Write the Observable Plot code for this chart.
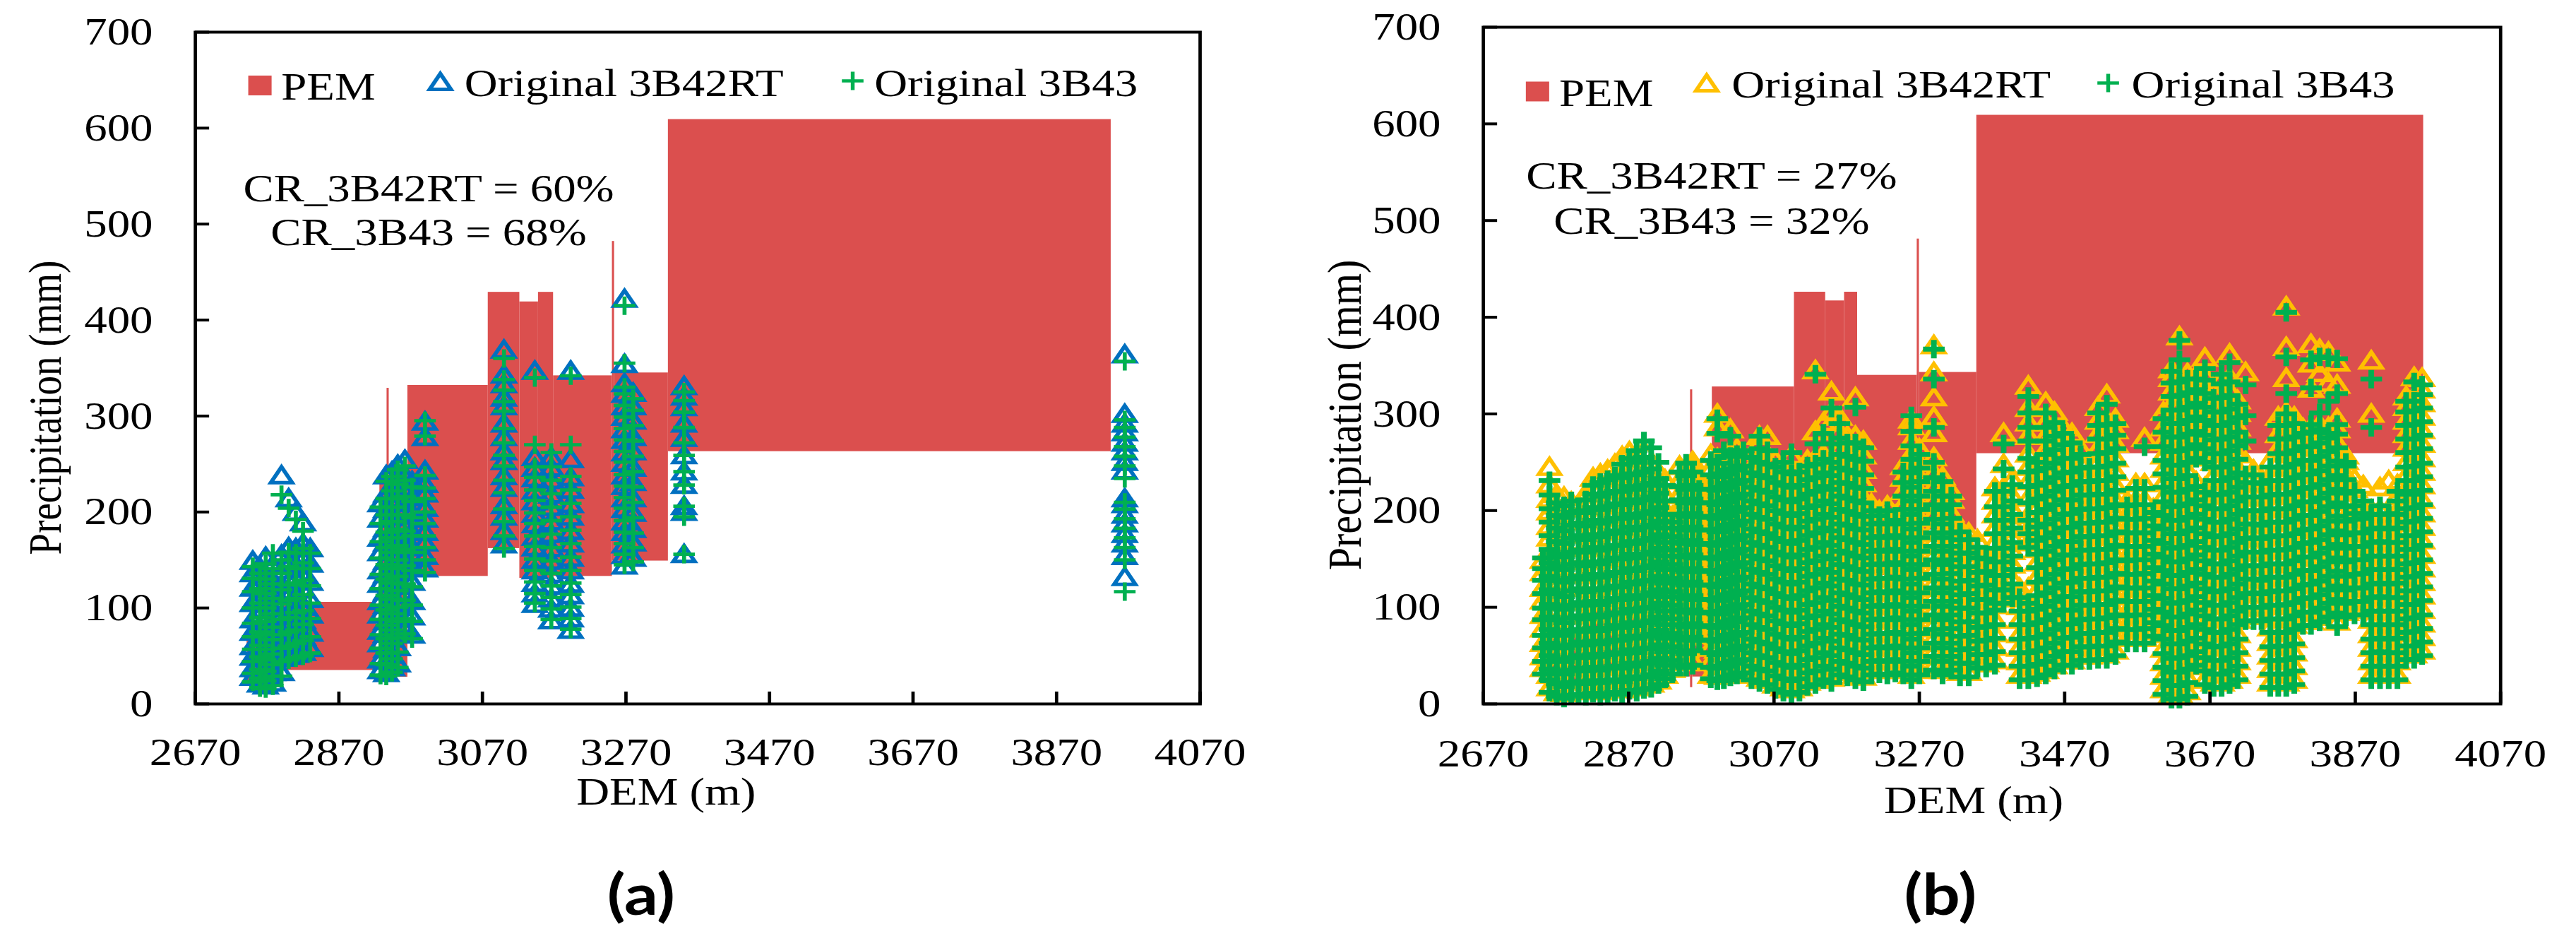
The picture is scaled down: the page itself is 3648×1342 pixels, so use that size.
<!DOCTYPE html>
<html><head><meta charset="utf-8">
<script src="https://cdn.jsdelivr.net/npm/d3@7"></script>
<script src="https://cdn.jsdelivr.net/npm/@observablehq/plot@0.6"></script>
<style>
html,body{margin:0;padding:0;background:#fff;}
#fig{display:flex;width:3648px;height:1342px;overflow:hidden;}
#fig svg{display:block;flex:none;}
</style></head><body><div id="fig"></div>
<script>
// ---------- labels / ticks ----------
const xTicks = [2670, 2870, 3070, 3270, 3470, 3670, 3870, 4070];
const yTicks = [0, 100, 200, 300, 400, 500, 600, 700];
const legendLabels = ["PEM", "Original 3B42RT", "Original 3B43"];
const crA = ["CR_3B42RT = 60%", "CR_3B43 = 68%"];
const crB = ["CR_3B42RT = 27%", "CR_3B43 = 32%"];
const panelLabels = ["(a)", "(b)"];
const xTitle = "DEM (m)";
const yTitle = "Precipitation (mm)";

// ---------- PEM band, panel (a) ----------
const aPemX1 = [2742, 2793, 2927, 2937, 2940, 2966, 3078, 3122, 3148, 3169, 3251, 3254, 3329];
const aPemX2 = [2793, 2922, 2937, 2940, 2966, 3078, 3122, 3148, 3169, 3251, 3254, 3329, 3946];
const aPemLo = [20, 35, 28, 28, 28, 133, 162, 131, 131, 133, 149, 149, 263];
const aPemHi = [76, 106, 239, 329, 239, 332, 429, 419, 429, 342, 482, 345, 609];

// ---------- PEM band, panel (b) ----------
const bPemX1 = [2761, 2812, 2946, 2955, 2958, 2985, 3098, 3141, 3167, 3185, 3267, 3270, 3349];
const bPemX2 = [2812, 2941, 2955, 2958, 2985, 3098, 3141, 3167, 3185, 3267, 3270, 3349, 3964];
const bPemLo = [20, 35, 28, 17, 28, 133, 162, 131, 131, 133, 150, 180, 259];
const bPemHi = [76, 106, 239, 325, 239, 328, 426, 417, 426, 340, 481, 343, 609];

// ---------- panel (a) points: [DEM, [precipitation values]] ----------
const a42 = [
 [2750,[26,35,47,58,73,86,103,119,134,147]],
 [2760,[19,28,39,51,62,78,91,108,124,140]],
 [2768,[17,26,35,48,59,75,88,103,117,133,151]],
 [2778,[20,31,42,54,69,81,97,113,127,143]],
 [2790,[31,46,61,74,91,105,122,137,153,236]],
 [2800,[48,61,78,92,111,126,145,161,212]],
 [2810,[50,66,79,97,112,129,143,160,198]],
 [2820,[52,68,85,99,117,131,149,165,187]],
 [2830,[56,72,91,107,125,144,160]],
 [2928,[33,44,61,74,91,105,123,137,156,171,191,207]],
 [2936,[30,43,55,71,84,101,115,133,147,166,181,201,217,236]],
 [2944,[36,49,66,79,97,111,129,143,161,175,193,207,225,240]],
 [2952,[40,57,71,89,103,121,135,153,167,185,199,217,231,247]],
 [2962,[76,91,111,127,147,163,183,199,219,235,252]],
 [2972,[70,89,105,125,141,161,177,197,213,230]],
 [2990,[139,152,166,177,191,202,217,227,241,276,292]],
 [3100,[164,178,193,205,223,235,251,261,276,290,308,317,331,341,367]],
 [3143,[102,113,124,137,148,161,172,185,196,209,220,233,244,255,345]],
 [3166,[85,97,108,121,133,147,160,175,188,203,216,231,244,255]],
 [3193,[75,87,98,111,123,137,150,165,178,193,206,221,234,253,345]],
 [3268,[142,153,164,177,188,201,212,225,236,249,260,273,284,297,308,321,332,352,420]],
 [3280,[150,166,180,197,212,229,244,261,276,293,308,322]],
 [3351,[154,198,204,226,240,257,275,290,307,318,329]],
 [3965,[130,152,165,175,186,195,206,212,241,250,261,270,281,290,300,362]]
];
const a43 = [
 [2750,[23,32,44,57,70,84,100,117,131,143]],
 [2760,[17,27,36,49,61,75,90,105,120,136]],
 [2768,[16,24,34,46,57,72,86,100,115,130,146]],
 [2778,[19,29,41,52,67,80,94,110,125,141,157]],
 [2790,[29,44,58,72,88,104,119,136,150,218]],
 [2800,[46,60,75,90,108,124,143,158,204]],
 [2810,[48,63,77,95,110,126,141,157,192]],
 [2820,[50,66,83,97,114,129,147,162,180]],
 [2830,[53,70,89,105,123,141,157]],
 [2928,[30,42,58,72,88,103,120,135,152,169,188,205]],
 [2936,[29,41,53,68,82,98,113,130,145,163,179,197,214,232]],
 [2944,[33,47,63,77,94,109,126,141,158,173,190,205,222,237]],
 [2952,[38,54,69,86,101,118,133,150,165,182,197,214,229,244]],
 [2962,[73,89,108,125,144,161,180,197,216,233,248]],
 [2972,[68,86,103,122,139,158,175,194,211,226]],
 [2990,[137,150,163,175,188,200,214,225,238,279,295]],
 [3100,[162,175,190,203,220,233,248,259,272,287,305,315,327,338,360]],
 [3143,[105,115,127,139,151,164,175,188,199,212,223,236,247,270,340]],
 [3166,[88,99,111,123,136,149,163,177,191,205,219,233,247,262]],
 [3193,[78,89,101,114,126,139,153,167,181,195,209,223,237,270,342]],
 [3268,[145,156,167,179,191,204,215,227,239,252,263,275,287,299,311,323,330,355,415]],
 [3280,[148,163,178,194,210,226,242,258,274,290,306,318]],
 [3351,[156,195,206,228,242,259,272,288,304,316,325]],
 [3965,[117,150,163,173,183,193,203,210,235,248,258,268,278,288,296,357]]
];

// ---------- panel (b) points ----------
const b43 = [
 [2752,[31,44,58,71,87,99,114,128,140,151]],
 [2761,[12,25,36,50,63,77,90,103,118,132,146,160,174,188,202,216,231]],
 [2771,[8,21,34,46,60,74,87,101,114,128,142,155,168,182,195,208]],
 [2781,[6,18,31,44,58,71,84,98,111,126,139,152,166,179,193,205]],
 [2791,[9,22,35,48,61,76,89,102,117,130,144,157,171,185,198,210]],
 [2801,[10,23,37,50,64,77,91,105,119,132,146,159,174,187,200]],
 [2811,[8,21,34,48,61,75,88,102,116,129,143,157,170,184,198,211]],
 [2821,[11,24,38,51,65,78,92,106,119,134,147,162,175,190,203,217,226]],
 [2831,[8,22,35,49,62,76,90,103,118,131,145,159,173,187,201,215,229]],
 [2841,[10,24,37,51,64,78,92,106,120,133,148,161,176,189,204,218,232]],
 [2851,[12,25,39,53,66,81,94,109,122,136,151,164,179,192,207,220,236]],
 [2861,[10,23,37,52,66,79,94,108,121,136,150,164,177,192,206,220,234,248]],
 [2871,[14,28,42,56,70,84,98,112,126,140,155,168,183,196,211,225,238,254]],
 [2881,[12,26,39,53,68,81,96,109,124,138,151,166,180,193,208,222,237,250,262]],
 [2891,[15,28,42,57,70,84,99,112,127,141,155,169,183,197,211,226,240,255,272]],
 [2901,[16,30,44,58,72,86,100,115,128,143,157,171,185,199,214,228,243,265]],
 [2911,[20,34,47,61,76,90,104,118,132,147,161,175,189,203,218,233,250]],
 [2920,[26,40,54,68,82,96,111,125,139,153,167,182,196,210,226]],
 [2930,[31,45,59,73,88,102,116,130,144,159,173,188]],
 [2940,[40,54,68,82,97,111,125,139,153,168,182,196,211,225,240]],
 [2949,[38,52,66,80,95,109,123,137,152,166,180,194,208,222,236,249]],
 [2958,[40,55,69,83,97,112,126,140,154,169,183,197,212,226,240]],
 [2967,[66,80,94,108,123,137,151,165,180,194,208,222]],
 [2983,[26,38,53,66,81,95,108,123,138,151,166,180,193,208,222,237,252]],
 [2992,[24,37,51,65,79,93,107,121,135,150,164,178,192,206,221,235,249,280,295]],
 [3001,[25,39,53,67,81,96,110,124,138,152,167,181,195,209,224,238,262]],
 [3010,[28,42,56,71,85,99,113,128,142,156,170,185,199,213,228,242,256,277]],
 [3019,[30,44,58,72,87,101,115,129,144,158,172,186,201,215,229,243,258]],
 [3028,[32,46,60,74,89,103,117,131,146,160,174,189,203,217,231,246,262]],
 [3039,[25,39,53,67,82,96,110,124,139,153,167,181,196,210,224,239,255]],
 [3050,[22,36,50,64,79,93,107,121,136,150,164,178,193,207,221,236,250,264,277]],
 [3061,[20,34,48,62,77,91,105,119,134,148,162,176,191,205,219,234,248,262]],
 [3072,[15,29,43,57,72,86,100,114,129,143,157,171,186,200,214,229,245]],
 [3083,[12,26,40,54,69,83,97,111,126,140,154,168,183,197,211,226,240,250]],
 [3094,[10,24,38,52,67,81,95,109,124,138,152,166,181,195,209,224,238,260]],
 [3105,[12,26,40,55,69,83,97,112,126,140,154,169,183,197,212,226,240]],
 [3116,[18,32,46,60,75,89,103,117,132,146,160,174,189,203,217,232,246]],
 [3127,[20,34,48,63,77,91,105,120,134,148,162,177,191,205,220,234,248,269,341]],
 [3138,[25,39,53,68,82,96,110,125,139,153,167,182,196,210,225,239,253,280]],
 [3149,[22,36,50,65,79,93,107,122,136,150,164,179,193,207,222,236,250,269,306]],
 [3160,[30,44,58,72,87,101,115,129,144,158,172,186,201,215,229,244,258,275,290]],
 [3171,[28,42,56,71,85,99,113,128,142,156,170,185,199,213,228,242,256,270]],
 [3182,[25,39,53,67,82,96,110,124,139,153,167,181,196,210,224,239,253,270,307]],
 [3193,[23,37,51,66,80,94,108,123,137,151,165,180,194,208,223,237,251,265]],
 [3204,[30,44,58,72,87,101,115,129,144,158,172,186,200]],
 [3215,[31,45,59,73,88,102,116,130,145,159,173,187,195]],
 [3226,[30,44,58,73,87,101,115,130,144,158,172,186,200]],
 [3237,[32,46,60,74,89,103,117,131,146,160,174,190]],
 [3248,[30,44,58,72,87,101,115,129,144,158,172,186,201,215,229,240]],
 [3259,[25,39,53,67,82,96,110,124,139,153,167,181,196,210,224,239,253,267,282,298]],
 [3270,[30,44,58,73,87,101,115,130,144,158,172,187,201,215,230,244,258]],
 [3290,[35,49,63,77,92,106,120,134,149,163,177,191,206,220,234,250,286,336,367]],
 [3302,[30,44,58,72,87,101,115,129,144,158,172,186,201,215,230]],
 [3314,[35,49,63,78,92,106,120,135,149,163,177,192,206,215]],
 [3326,[28,42,56,70,85,99,113,127,142,156,170,178]],
 [3338,[28,42,57,71,85,99,114,128,142,156,170]],
 [3350,[37,51,65,79,94,108,122,136,151,162]],
 [3362,[37,51,66,80,94,108,123,137,150]],
 [3374,[40,54,68,82,97,104,118,133,147,161,176,190,204,220]],
 [3386,[104,118,133,147,161,176,190,204,220,243,269]],
 [3398,[110,124,139,153,167,182,196,210,227]],
 [3408,[25,39,53,67,82,96,110]],
 [3420,[25,39,53,68,82,96,104,162,176,190,208,225,240,254,272,286,301,318]],
 [3432,[27,41,55,69,84,98,112,126,141,155,169,183,198,212,226,241,250]],
 [3444,[30,44,58,72,87,101,115,129,144,158,172,186,201,215,229,244,258,272,286,301]],
 [3456,[35,49,63,77,92,106,120,134,149,163,177,191,206,220,234,249,263,277,291]],
 [3468,[40,54,68,82,97,111,125,139,154,168,182,196,211,225,239,254,268,280]],
 [3480,[40,54,69,83,97,111,126,140,154,168,183,197,211,226,240,254,270]],
 [3492,[45,59,73,87,102,116,130,144,159,173,187,201,216,230,244,258]],
 [3504,[45,59,73,88,102,116,130,145,159,173,187,202,216,230,245]],
 [3516,[46,60,74,88,103,117,131,145,160,174,188,202,217,231,245,259,274,288,301]],
 [3528,[46,60,74,89,103,117,131,146,160,174,188,203,217,231,246,260,274,289,310]],
 [3540,[50,64,78,92,107,121,135,149,164,178,192,206,221,235,249,264,278,290]],
 [3556,[63,77,91,106,120,134,148,163,177,191,205]],
 [3568,[63,77,92,106,120,134,149,163,177,191,206,223]],
 [3580,[63,78,92,106,120,135,149,163,177,192,206,223,266]],
 [3592,[70,84,98,112,127,141,155,169,184,198]],
 [3606,[10,24,38,52,67,81,95,109,124,138,152,166,181,195,209,224,238,252,266,281,295]],
 [3617,[5,19,33,47,62,76,90,104,119,133,147,161,176,190,204,219,233,247,261,276,290,304,318,332,344]],
 [3628,[5,19,33,48,62,76,90,105,119,133,147,162,176,190,205,219,233,247,262,276,290,304,319,333,356,376]],
 [3639,[8,22,36,50,65,79,93,107,122,136,150,164,179,193,207,222,236,250,264,279,293,307,322,336]],
 [3651,[40,54,68,82,97,111,125,139,154,168,182,196,211,225,254,268,282,297,311,325,336]],
 [3663,[20,34,48,62,77,91,105,119,134,148,162,176,191,205,219,250,264,278,293,307,321,335,347]],
 [3675,[17,31,45,59,74,88,102,116,131,145,159,173,188,202,216,231,245,259,273,288,302,316]],
 [3686,[17,31,45,60,74,88,102,117,131,145,159,174,188,202,217,231,245,259,274,288,302,317,331,341]],
 [3697,[20,34,48,62,77,91,105,119,134,148,162,176,191,205,219,234,248,262,276,291,305,319,333,353]],
 [3708,[25,39,53,67,82,96,110,124,139,153,167,181,196,210,224,239,253,267,281,296,310]],
 [3719,[86,100,114,129,143,157,171,186,200,214,229,237,272,298,330]],
 [3730,[86,100,115,129,143,157,172,186,200,214,229,237]],
 [3741,[86,100,114,128,143,157,171,185,200,214,228]],
 [3753,[17,31,45,59,74,88,102,116,131,145,159,173,188,202,216,231,245]],
 [3764,[17,31,45,60,74,88,102,117,131,145,159,174,188,202,217,231,245,259,274,288]],
 [3775,[17,31,46,60,74,88,103,117,131,145,160,174,188,202,217,231,245,259,274,288,300,321,359,405]],
 [3786,[20,34,48,62,77,91,105,119,134,148,162,176,191,205,219,234,248,262,276,290]],
 [3798,[81,95,109,123,138,152,166,180,195,209,223,237,252,266,280]],
 [3809,[81,95,110,124,138,152,167,181,195,209,224,238,252,266,281,289,327,356]],
 [3821,[85,99,113,127,142,156,170,184,199,213,227,241,256,270,284,301,359]],
 [3833,[90,104,118,132,147,161,175,189,204,218,232,246,261,275,280,313,358]],
 [3845,[80,94,108,122,137,151,165,179,194,208,222,236,251,265,279,289,321,357]],
 [3857,[90,104,118,132,147,161,175,189,204,218,232,246,250]],
 [3869,[92,106,120,134,149,163,177,191,197,205,220]],
 [3881,[92,106,120,135,149,163,177,192,197,210]],
 [3892,[25,39,53,67,82,96,110,124,139,153,167,181,196,286,336]],
 [3904,[25,39,54,68,82,96,111,125,139,153,168,182,196,205]],
 [3916,[25,39,53,67,82,96,110,124,139,153,167,181,197]],
 [3928,[25,39,53,68,82,96,110,125,139,153,167,182,196,210,220]],
 [3940,[46,60,74,88,103,117,131,145,160,174,188,202,217,231,245,260,274,288,302,313]],
 [3951,[46,60,75,89,103,117,132,146,160,174,189,203,217,220,231,246,260,274,289,303,313,333]],
 [3962,[50,64,78,92,107,121,135,149,164,178,192,206,221,235,249,264,278,292,306,320,330]]
];
const b42 = [
 [2752,[35,47,61,76,90,105,118,134,147]],
 [2761,[15,28,42,57,69,85,97,112,126,140,154,170,182,197,210,225,243]],
 [2771,[10,24,38,52,65,79,94,107,121,135,149,162,177,190,203,215]],
 [2781,[9,22,35,49,63,77,90,104,118,132,146,159,173,187,200,212]],
 [2791,[12,26,39,53,67,81,95,110,123,137,151,165,178,193,207]],
 [2801,[13,27,40,55,68,82,97,110,124,139,152,166,180,193,204]],
 [2811,[11,24,38,52,66,80,93,107,122,135,149,163,177,191,205,216]],
 [2821,[14,28,41,56,70,83,97,112,125,139,153,168,181,195,209,222,232]],
 [2831,[11,25,39,53,66,81,94,108,122,137,150,164,178,192,206,220,236]],
 [2841,[13,27,41,55,69,82,96,111,124,138,152,167,181,194,209,222,240]],
 [2851,[15,29,43,57,71,84,98,113,127,141,155,169,183,197,211,225,246]],
 [2861,[13,27,41,56,70,84,98,112,126,140,155,168,182,196,210,224,238,254]],
 [2871,[16,31,45,59,73,88,101,116,130,143,158,171,186,200,214,228,243,259]],
 [2881,[15,29,43,57,71,86,99,113,127,142,156,170,184,198,212,226,241,256]],
 [2891,[18,32,46,60,74,88,102,116,130,144,158,172,186,200,214,229,244,260]],
 [2901,[19,33,47,61,76,90,104,118,132,146,160,174,188,203,218,232,248]],
 [2911,[22,36,50,65,79,93,107,121,135,150,164,178,192,207,222,238]],
 [2920,[28,42,57,71,85,99,113,128,142,156,170,185,199,214,230]],
 [2930,[34,48,62,76,91,105,119,133,147,162,176,192]],
 [2940,[43,57,71,85,100,114,128,142,157,171,185,199,214,229,244]],
 [2949,[41,55,69,83,98,112,126,140,155,169,183,197,211,225,239]],
 [2958,[43,58,72,86,100,115,129,143,157,172,186,200,215,229,243,249]],
 [2967,[69,83,97,111,126,140,154,168,183,197,211,225,232]],
 [2983,[28,41,56,70,84,98,112,126,141,155,169,183,197,211,226,241,256]],
 [2992,[27,40,54,68,82,96,110,124,139,153,167,181,195,210,224,238,252,284,298]],
 [3001,[28,42,56,70,84,99,113,127,141,156,170,184,198,213,227,242]],
 [3010,[31,45,59,74,88,102,116,131,145,159,173,188,202,216,231,245,260,282]],
 [3019,[33,47,61,75,90,104,118,132,147,161,175,190,204,218,232,247,262]],
 [3028,[35,49,63,77,92,106,120,134,149,163,177,192,206,220,234,250]],
 [3039,[28,42,56,70,85,99,113,127,142,156,170,184,199,213,227,242]],
 [3050,[25,39,53,67,82,96,110,124,139,153,167,181,196,210,224,239,253,268,275]],
 [3061,[23,37,51,65,80,94,108,122,137,151,165,179,194,208,222,237,251,275]],
 [3072,[18,32,46,60,75,89,103,117,132,146,160,174,189,203,217,232,250]],
 [3083,[15,29,43,57,72,86,100,114,129,143,157,171,186,200,214,229,244]],
 [3094,[13,27,41,55,70,84,98,112,127,141,155,169,184,198,212,227,242,255]],
 [3105,[15,29,43,58,72,86,100,115,129,143,157,172,186,200,215,229]],
 [3116,[21,35,49,63,78,92,106,120,135,149,163,177,192,206,220,235,250]],
 [3127,[23,37,51,66,80,94,108,123,137,151,165,180,194,208,223,237,252,280,343]],
 [3138,[28,42,56,71,85,99,113,128,142,156,170,185,199,213,228,242,256,289]],
 [3149,[25,39,53,68,82,96,110,125,139,153,167,182,196,210,225,239,253,289,300,321]],
 [3160,[33,47,61,75,90,104,118,132,147,161,175,189,204,218,232,247,262,280,295]],
 [3171,[31,45,59,74,88,102,116,131,145,159,173,188,202,216,231,245,260,275]],
 [3182,[28,42,56,70,85,99,113,127,142,156,170,184,199,213,227,242,256,275,315]],
 [3193,[26,40,54,69,83,97,111,126,140,154,168,183,197,211,226,240,255,270]],
 [3204,[33,47,61,75,90,104,118,132,147,161,175,189,205]],
 [3215,[34,48,62,76,91,105,119,133,148,162,176,190,198]],
 [3226,[33,47,61,76,90,104,118,133,147,161,175,189,203]],
 [3237,[35,49,63,77,92,106,120,134,149,163,177,193]],
 [3248,[33,47,61,75,90,104,118,132,147,161,175,189,204,218,232,244]],
 [3259,[28,42,56,70,85,99,113,127,142,156,170,184,199,213,227,242,256,270,285,292]],
 [3270,[33,47,61,76,90,104,118,133,147,161,175,190,204,218,233,247,262]],
 [3290,[38,52,66,80,95,109,123,137,152,166,180,194,209,223,237,253,278,295,315,341,369]],
 [3302,[33,47,61,75,90,104,118,132,147,161,175,189,204,218,233]],
 [3314,[38,52,66,81,95,109,123,138,152,166,180,195,209,218]],
 [3326,[31,45,59,73,88,102,116,130,145,159,173,180]],
 [3338,[31,45,60,74,88,102,117,131,145,159,175]],
 [3350,[40,54,68,82,97,111,125,139,154,168]],
 [3362,[40,54,69,83,97,111,126,140,152]],
 [3374,[43,57,71,85,100,108,122,137,151,165,180,194,208,222]],
 [3386,[107,121,136,150,164,179,193,207,222,246,278]],
 [3398,[113,127,142,156,170,185,199,213,230]],
 [3408,[28,42,56,70,85,99,113,118]],
 [3420,[28,42,56,71,85,99,118,165,179,193,211,228,243,257,275,289,304,327]],
 [3432,[30,44,58,72,87,101,115,129,144,158,172,186,201,215,229,244]],
 [3444,[33,47,61,75,90,104,118,132,147,161,175,189,204,218,232,247,261,275,289,310]],
 [3456,[38,52,66,80,95,109,123,137,152,166,180,194,209,223,237,252,266,280,300]],
 [3468,[43,57,71,85,100,114,128,142,157,171,185,199,214,228,242,257,271,284]],
 [3480,[43,57,72,86,100,114,129,143,157,171,186,200,214,229,243,257,278]],
 [3492,[48,62,76,90,105,119,133,147,162,176,190,204,219,233,247,262]],
 [3504,[48,62,76,91,105,119,133,148,162,176,190,205,219,233,250]],
 [3516,[49,63,77,91,106,120,134,148,163,177,191,205,220,234,248,262,277,291,305]],
 [3528,[49,63,77,92,106,120,134,149,163,177,191,206,220,234,249,263,277,292,318]],
 [3540,[53,67,81,95,110,124,138,152,167,181,195,209,224,238,252,267,281,293]],
 [3556,[66,80,94,109,123,137,151,166,180,194,208]],
 [3568,[66,80,95,109,123,137,152,166,180,194,209,226]],
 [3580,[66,81,95,109,123,138,152,166,180,195,209,226,273]],
 [3592,[73,87,101,115,130,144,158,172,187,200]],
 [3606,[13,27,41,55,70,84,98,112,127,141,155,169,184,198,212,227,241,255,269,284,300]],
 [3617,[8,22,36,50,65,79,93,107,122,136,150,164,179,193,207,222,236,250,264,279,293,307,321,335,344]],
 [3628,[8,22,36,51,65,79,93,108,122,136,150,165,179,193,208,222,236,250,265,279,293,307,322,336,378]],
 [3639,[11,25,39,53,68,82,96,110,125,139,153,167,182,196,210,225,239,253,267,282,296,310,325,340]],
 [3651,[43,57,71,85,100,114,128,142,157,171,185,199,214,228,257,271,285,300,314,328,338]],
 [3663,[23,37,51,65,80,94,108,122,137,151,165,179,194,208,222,253,267,281,296,310,324,338,356]],
 [3675,[20,34,48,62,77,91,105,119,134,148,162,176,191,205,219,234,248,262,276,291,305,320]],
 [3686,[20,34,48,63,77,91,105,120,134,148,162,177,191,205,220,234,248,262,277,291,305,320,334]],
 [3697,[23,37,51,65,80,94,108,122,137,151,165,179,194,208,222,237,251,265,279,294,308,322,336,360]],
 [3708,[28,42,56,70,85,99,113,127,142,156,170,184,199,213,227,242,256,270,284,299,312]],
 [3719,[89,103,117,132,146,160,174,189,203,217,232,249,341]],
 [3730,[89,103,118,132,146,160,175,189,203,217,232,240]],
 [3741,[89,103,117,131,146,160,174,188,203,217,231]],
 [3753,[20,34,48,62,77,91,105,119,134,148,162,176,191,205,219,234,250]],
 [3764,[20,34,48,63,77,91,105,120,134,148,162,177,191,205,220,234,248,262,277,295]],
 [3775,[20,34,49,63,77,91,106,120,134,148,163,177,191,205,220,234,248,262,277,291,300,335,367,409]],
 [3786,[23,37,51,65,80,94,108,122,137,151,165,179,194,208,222,237,251,265,279,295]],
 [3798,[84,98,112,126,141,155,169,183,198,212,226,240,255,269,283]],
 [3809,[84,98,113,127,141,155,170,184,198,212,227,241,255,269,284,324,350,370]],
 [3821,[88,102,116,130,145,159,173,187,202,216,230,244,259,273,287,340,365]],
 [3833,[93,107,121,135,150,164,178,192,207,221,235,249,264,278,284,330,362]],
 [3845,[83,97,111,125,140,154,168,182,197,211,225,239,254,268,282,293,328,351]],
 [3857,[93,107,121,135,150,164,178,192,207,221,235,249,255]],
 [3869,[95,109,123,137,152,166,180,194,200,220,231]],
 [3881,[95,109,123,138,152,166,180,195,200,224]],
 [3892,[28,42,56,70,85,99,113,127,142,156,170,184,199,298,353]],
 [3904,[28,42,57,71,85,99,114,128,142,156,171,185,199,222]],
 [3916,[28,42,56,70,85,99,113,127,142,156,170,184,229]],
 [3928,[28,42,56,71,85,99,113,128,142,156,170,185,199,213,225]],
 [3940,[49,63,77,91,106,120,134,148,163,177,191,205,220,234,248,263,277,291,305,316]],
 [3951,[49,63,78,92,106,120,135,149,163,177,192,206,220,234,249,263,277,292,306,316,336]],
 [3962,[53,67,81,95,110,124,138,152,167,181,195,209,224,238,252,267,281,295,309,323,335]]
];

// ---------- rendering ----------
const RED = "#DB4F4E", BLUE = "#0070C0", GREEN = "#00B050", GOLD = "#FFC000";
const SERIF = "'Liberation Serif','Times New Roman',serif";
const INNER_W = 1546;            // internal width of each panel (then stretched to 1824 px)
const TRI_R = 9.5, TRI_W = 5;    // triangle symbol radius / stroke
const PLUS_R = 8.4, PLUS_W = 4.6; // plus symbol radius / stroke (legend)

function flatten(rows) { return rows.flatMap(([x, vs]) => vs.map(y => ({x, y}))); }
function pemRows(x1, x2, lo, hi) { return x1.map((v, i) => ({x1: v, x2: x2[i], y1: lo[i], y2: hi[i]})); }

function panel(c) {
  const fs = 55;
  const T = (txt, o) => Plot.text([txt], {fontSize: fs, fill: "#000", ...o});
  const svg = Plot.plot({
    width: INNER_W, height: 1342,
    marginLeft: c.ml, marginRight: c.mr, marginTop: c.mt, marginBottom: c.mb,
    x: {domain: [2670, 4070]},
    y: {domain: [0, 700]},
    style: {fontFamily: SERIF, color: "#000", background: "#fff"},
    marks: [
      Plot.rect(pemRows(...c.pem), {x1: "x1", x2: "x2", y1: "y1", y2: "y2", fill: RED}),
      Plot.dot(flatten(c.s42), {x: "x", y: "y", symbol: "triangle", r: TRI_R, fill: "none", stroke: c.c42, strokeWidth: TRI_W}),
      Plot.dot(flatten(c.s43), {x: "x", y: "y", symbol: "plus", r: PLUS_R, fill: "none", stroke: GREEN, strokeWidth: c.plusW}),
      Plot.frame({stroke: "#000", strokeWidth: 4}),
      Plot.axisX({ticks: xTicks, tickSize: 17, dy: -17, tickFormat: () => "", stroke: "#000", strokeWidth: 4, label: null}),
      Plot.axisX({ticks: xTicks, tickSize: 0, tickPadding: c.xpad, tickFormat: d => String(d), fontSize: fs, fill: "#000", label: null}),
      Plot.axisY({ticks: yTicks, tickSize: 17, dx: 17, tickFormat: () => "", stroke: "#000", strokeWidth: 4, label: null}),
      Plot.axisY({ticks: yTicks, tickSize: 0, tickPadding: 51, tickFormat: d => String(d), fontSize: fs, fill: "#000", label: null}),
      T(xTitle, {frameAnchor: "bottom", textAnchor: "middle", dx: c.xtDx, dy: c.xtDy, lineAnchor: "bottom"}),
      T(yTitle, {frameAnchor: "left", textAnchor: "middle", rotate: -90, dx: c.ytDx, dy: c.ytDy, lineAnchor: "bottom", fontSize: c.ytFs}),
      T(c.cr[0], {frameAnchor: "top-left", textAnchor: "middle", dx: c.crDx, dy: c.crDy[0], lineAnchor: "bottom"}),
      T(c.cr[1], {frameAnchor: "top-left", textAnchor: "middle", dx: c.crDx, dy: c.crDy[1], lineAnchor: "bottom"}),
      // legend
      Plot.dot([0], {frameAnchor: "top-left", dx: c.lg.sq[0], dy: c.lg.sq[1], symbol: "square", r: 15.8, fill: RED}),
      T(legendLabels[0], {frameAnchor: "top-left", dx: c.lg.t0[0], dy: c.lg.t0[1], textAnchor: "start", lineAnchor: "bottom"}),
      Plot.dot([0], {frameAnchor: "top-left", dx: c.lg.tri[0], dy: c.lg.tri[1], symbol: "triangle", r: TRI_R, fill: "none", stroke: c.c42, strokeWidth: TRI_W}),
      T(legendLabels[1], {frameAnchor: "top-left", dx: c.lg.t1[0], dy: c.lg.t1[1], textAnchor: "start", lineAnchor: "bottom"}),
      Plot.dot([0], {frameAnchor: "top-left", dx: c.lg.pl[0], dy: c.lg.pl[1], symbol: "plus", r: PLUS_R, fill: "none", stroke: GREEN, strokeWidth: PLUS_W}),
      T(legendLabels[2], {frameAnchor: "top-left", dx: c.lg.t2[0], dy: c.lg.t2[1], textAnchor: "start", lineAnchor: "bottom"}),
      // panel letter
      T(c.letter, {frameAnchor: "bottom", textAnchor: "middle", dx: c.lbDx, dy: 298, lineAnchor: "bottom", fontFamily: "Lato, 'Open Sans', sans-serif", fontWeight: "bold", fontSize: 80})
    ]
  });
  // stretch horizontally like the original figure
  svg.setAttribute("width", 1824);
  svg.setAttribute("height", 1342);
  svg.setAttribute("viewBox", `0 0 ${INNER_W} 1342`);
  svg.setAttribute("preserveAspectRatio", "none");
  svg.style.width = "1824px";
  svg.style.height = "1342px";
  svg.style.maxWidth = "none";
  return svg;
}

const fig = document.getElementById("fig");
fig.append(panel({
  ml: 234, mr: 106, mt: 45, mb: 346, xpad: 47, plusW: 4.8,
  pem: [aPemX1, aPemX2, aPemLo, aPemHi], s42: a42, s43: a43, c42: BLUE,
  xtDx: -38, xtDy: 142, ytDx: -162, ytDy: 56, ytFs: 55,
  cr: crA, crDx: 280, crDy: [239, 301],
  lg: {sq: [77.5, 75.5], t0: [103, 95], tri: [294, 73.6], t1: [323, 90], pl: [789, 69], t2: [815, 90]},
  letter: panelLabels[0], lbDx: -68
}));
fig.append(panel({
  ml: 234, mr: 91, mt: 38, mb: 346, xpad: 49, plusW: 6.8,
  pem: [bPemX1, bPemX2, bPemLo, bPemHi], s42: b42, s43: b43, c42: GOLD,
  xtDx: -22, xtDy: 154, ytDx: -147, ytDy: 70, ytFs: 58,
  cr: crB, crDx: 274, crDy: [228, 292],
  lg: {sq: [65, 91], t0: [91, 111], tri: [268, 82.6], t1: [298, 99], pl: [750, 79], t2: [778, 99]},
  letter: panelLabels[1], lbDx: -62
}));
</script></body></html>
